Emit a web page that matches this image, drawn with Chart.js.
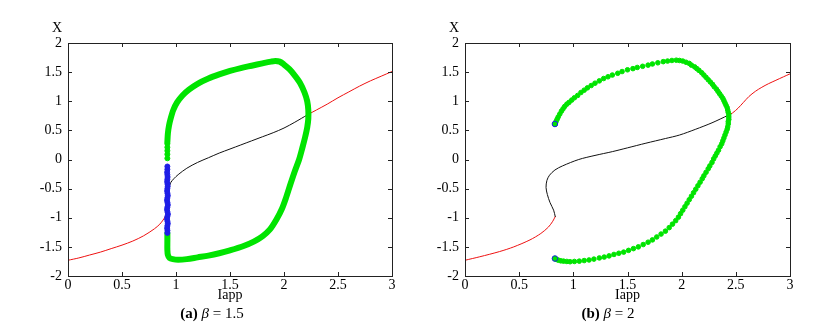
<!DOCTYPE html>
<html>
<head>
<meta charset="utf-8">
<script src="https://cdn.jsdelivr.net/npm/chart.js@4.4.1/dist/chart.umd.min.js"></script>
<style>
body{margin:0;background:#fff;}
.wrap{position:relative;width:824px;height:330px;}
canvas{position:absolute;top:0;}
.cap{position:absolute;top:305px;font:15px/17px 'Liberation Serif',serif;color:#000;white-space:nowrap;transform:translateX(-50%);}
</style>
</head>
<body>
<div class="wrap">
<canvas id="chartA" width="412" height="330" style="left:0"></canvas>
<canvas id="chartB" width="412" height="330" style="left:412px"></canvas>
<div class="cap" style="left:212px"><b>(a)</b> <i>β</i> = 1.5</div>
<div class="cap" style="left:608px"><b>(b)</b> <i>β</i> = 2</div>
</div>
<script>
// ---- (a) beta = 1.5 ----
const stableLowA = [[0,-1.73],[0.1,-1.69],[0.2,-1.64],[0.3,-1.59],[0.4,-1.53],[0.5,-1.47],[0.6,-1.40],[0.7,-1.31],[0.8,-1.19],[0.85,-1.11],[0.88,-1.04],[0.9,-0.98],[0.915,-0.92]];
const unstableA = [[0.915,-0.95],[0.925,-0.7],[0.935,-0.5],[0.95,-0.4],[0.98,-0.33],[1.02,-0.26],[1.1,-0.15],[1.2,-0.05],[1.3,0.03],[1.4,0.11],[1.5,0.18],[1.6,0.25],[1.7,0.32],[1.8,0.39],[1.9,0.46],[2.0,0.54],[2.1,0.64],[2.22,0.77]];
const stableHighA = [[2.22,0.77],[2.3,0.85],[2.4,0.95],[2.5,1.06],[2.6,1.16],[2.7,1.26],[2.8,1.35],[2.9,1.43],[3.0,1.51]];
const cycleA = [[0.92,0.3],[0.925,0.45],[0.935,0.58],[0.95,0.7],[0.975,0.85],[1.01,0.98],[1.06,1.1],[1.12,1.2],[1.2,1.3],[1.3,1.39],[1.4,1.46],[1.5,1.52],[1.6,1.57],[1.7,1.61],[1.8,1.65],[1.88,1.68],[1.92,1.69],[1.96,1.68],[2.0,1.63],[2.05,1.55],[2.1,1.44],[2.15,1.31],[2.19,1.15],[2.215,1.0],[2.225,0.85],[2.225,0.7],[2.215,0.55],[2.195,0.38],[2.17,0.2],[2.14,0.0],[2.1,-0.2],[2.06,-0.42],[2.02,-0.65],[1.98,-0.85],[1.93,-1.03],[1.87,-1.2],[1.8,-1.32],[1.72,-1.41],[1.62,-1.49],[1.5,-1.56],[1.4,-1.61],[1.3,-1.65],[1.2,-1.68],[1.1,-1.71],[1.02,-1.72],[0.97,-1.71],[0.94,-1.69],[0.925,-1.64],[0.92,-1.55],[0.92,-1.4],[0.92,-1.27]];
const cycleDotsA = [[0.92,0.02],[0.92,0.09],[0.92,0.15],[0.92,0.21],[0.92,0.27]];
const unstableCycleA = [[0.92,-0.12],[0.92,-0.17],[0.918,-0.22],[0.92,-0.26],[0.922,-0.3],[0.92,-0.34],[0.918,-0.38],[0.921,-0.42],[0.923,-0.46],[0.92,-0.5],[0.918,-0.54],[0.921,-0.58],[0.924,-0.62],[0.92,-0.66],[0.917,-0.7],[0.921,-0.74],[0.924,-0.78],[0.92,-0.82],[0.917,-0.86],[0.921,-0.9],[0.925,-0.94],[0.92,-0.98],[0.917,-1.02],[0.921,-1.06],[0.924,-1.1],[0.92,-1.14],[0.918,-1.18],[0.921,-1.22],[0.92,-1.26]];

// ---- (b) beta = 2 ----
const stableLowB = [[0,-1.73],[0.136,-1.67],[0.32,-1.58],[0.45,-1.50],[0.6,-1.38],[0.7,-1.27],[0.77,-1.16],[0.81,-1.06],[0.833,-0.98]];
const unstableB = [[0.833,-0.98],[0.818,-0.87],[0.785,-0.74],[0.76,-0.6],[0.748,-0.48],[0.756,-0.36],[0.78,-0.27],[0.83,-0.18],[0.9,-0.11],[1.05,0.0],[1.2,0.07],[1.36,0.135],[1.5,0.2],[1.67,0.28],[1.85,0.36],[1.98,0.42],[2.13,0.52],[2.28,0.63],[2.43,0.76]];
const stableHighB = [[2.43,0.76],[2.47,0.8],[2.52,0.88],[2.57,0.98],[2.62,1.08],[2.68,1.17],[2.74,1.24],[2.8,1.3],[2.87,1.36],[2.94,1.42],[3.0,1.47]];
const cycleB = [[0.83,0.61],[0.84,0.65],[0.85,0.69],[0.86,0.73],[0.875,0.78],[0.89,0.83],[0.905,0.87],[0.92,0.91],[0.94,0.95],[0.96,0.98],[0.985,1.02],[1.01,1.06],[1.04,1.10],[1.07,1.15],[1.10,1.19],[1.13,1.23],[1.165,1.27],[1.20,1.31],[1.24,1.35],[1.28,1.39],[1.32,1.42],[1.36,1.45],[1.41,1.48],[1.45,1.51],[1.50,1.54],[1.55,1.56],[1.59,1.58],[1.64,1.60],[1.69,1.62],[1.73,1.64],[1.78,1.66],[1.83,1.68],[1.87,1.69],[1.91,1.70],[1.95,1.705],[1.98,1.70],[2.01,1.69],[2.04,1.67],[2.07,1.65],[2.09,1.62],[2.12,1.59],[2.14,1.56],[2.16,1.53],[2.185,1.49],[2.205,1.45],[2.225,1.41],[2.245,1.37],[2.265,1.33],[2.285,1.29],[2.30,1.25],[2.32,1.21],[2.335,1.17],[2.35,1.13],[2.365,1.09],[2.38,1.05],[2.39,1.01],[2.40,0.97],[2.41,0.93],[2.42,0.89],[2.425,0.85],[2.43,0.81],[2.435,0.77],[2.435,0.73],[2.435,0.69],[2.43,0.65],[2.43,0.61],[2.425,0.56],[2.42,0.52],[2.41,0.47],[2.40,0.42],[2.39,0.37],[2.38,0.32],[2.37,0.27],[2.355,0.22],[2.34,0.16],[2.325,0.11],[2.31,0.06],[2.295,0.01],[2.28,-0.05],[2.26,-0.11],[2.245,-0.16],[2.225,-0.22],[2.205,-0.28],[2.19,-0.33],[2.17,-0.39],[2.15,-0.45],[2.13,-0.51],[2.11,-0.57],[2.09,-0.63],[2.07,-0.69],[2.05,-0.75],[2.03,-0.81],[2.01,-0.87],[1.99,-0.93],[1.97,-0.99],[1.945,-1.05],[1.915,-1.11],[1.885,-1.17],[1.85,-1.23],[1.81,-1.28],[1.77,-1.33],[1.73,-1.38],[1.69,-1.42],[1.645,-1.46],[1.60,-1.50],[1.555,-1.53],[1.51,-1.56],[1.465,-1.59],[1.42,-1.61],[1.375,-1.63],[1.33,-1.655],[1.285,-1.675],[1.24,-1.69],[1.19,-1.71],[1.145,-1.725],[1.10,-1.735],[1.055,-1.745],[1.01,-1.75],[0.97,-1.755],[0.94,-1.75],[0.91,-1.745],[0.885,-1.74],[0.865,-1.73],[0.85,-1.72],[0.84,-1.71],[0.83,-1.70]];
const cycleEndsB = [[0.83,0.61],[0.83,-1.70]];

const xTicks = { min: 0, max: 3, step: 0.5 };
const yTicks = { min: -2, max: 2, step: 0.5 };

const RED = '#ee1111', BLACK = '#111', GREEN = 'rgb(0,228,0)', BLUE = 'rgb(30,30,230)';

Chart.defaults.font.family = "'Liberation Serif', serif";
Chart.defaults.font.size = 14;
Chart.defaults.color = '#000';

const pts = arr => arr.map(p => ({ x: p[0], y: p[1] }));
const fmt = v => String(Math.round(v * 10) / 10);

function line(data, color, width, tension) {
  return { data: pts(data), showLine: true, borderColor: color, borderWidth: width,
    pointRadius: 0, tension: tension, borderCapStyle: 'round', borderJoinStyle: 'round' };
}
function dots(data, fill, border, r) {
  return { data: pts(data), showLine: false, backgroundColor: fill, borderColor: border,
    borderWidth: 1, pointRadius: r };
}

// frame with inward ticks on all four sides, plus axis labels
const framePlugin = {
  id: 'frame',
  afterDraw(chart, args, opts) {
    const { ctx, chartArea: a, scales } = chart;
    ctx.save();
    ctx.strokeStyle = '#222';
    ctx.lineWidth = 1;
    ctx.strokeRect(a.left + 0.5, a.top + 0.5, a.right - a.left, a.bottom - a.top);
    ctx.beginPath();
    scales.x.ticks.forEach(t => {
      const px = Math.round(scales.x.getPixelForValue(t.value)) + 0.5;
      ctx.moveTo(px, a.bottom); ctx.lineTo(px, a.bottom - 4);
      ctx.moveTo(px, a.top); ctx.lineTo(px, a.top + 4);
    });
    scales.y.ticks.forEach(t => {
      const py = Math.round(scales.y.getPixelForValue(t.value)) + 0.5;
      ctx.moveTo(a.left, py); ctx.lineTo(a.left + 4, py);
      ctx.moveTo(a.right, py); ctx.lineTo(a.right - 4, py);
    });
    ctx.stroke();
    ctx.fillStyle = '#000';
    ctx.font = "14px 'Liberation Serif', serif";
    ctx.textAlign = 'center';
    ctx.textBaseline = 'alphabetic';
    ctx.fillText(opts.yLabel, a.left - 11, a.top - 11);
    ctx.fillText(opts.xLabel, (a.left + a.right) / 2, a.bottom + 23);
    ctx.restore();
  }
};

function makeChart(id, datasets, pad) {
  const noPad = s => { s.paddingLeft = 0; s.paddingRight = 0; s.paddingTop = 0; s.paddingBottom = 0; };
  return new Chart(document.getElementById(id), {
    type: 'scatter',
    data: { datasets },
    plugins: [framePlugin],
    options: {
      responsive: false,
      animation: false,
      events: [],
      layout: { padding: pad },
      plugins: { legend: { display: false }, tooltip: { enabled: false },
        frame: { xLabel: 'Iapp', yLabel: 'X' } },
      scales: {
        x: { type: 'linear', min: xTicks.min, max: xTicks.max,
          ticks: { stepSize: xTicks.step, padding: 1, maxRotation: 0, callback: fmt },
          grid: { display: false, drawTicks: false }, border: { display: false },
          afterFit: s => { s.height = 20; noPad(s); } },
        y: { type: 'linear', min: yTicks.min, max: yTicks.max,
          ticks: { stepSize: yTicks.step, padding: 6, callback: fmt },
          grid: { display: false, drawTicks: false }, border: { display: false },
          afterFit: s => { s.width = 30; noPad(s); } }
      }
    }
  });
}

makeChart('chartA', [
  dots(unstableCycleA, BLUE, BLUE, 2.5),
  dots(cycleDotsA, GREEN, GREEN, 2.5),
  line(cycleA, GREEN, 6, 0.3),
  line(unstableA, BLACK, 1, 0.3),
  line(stableHighA, RED, 1, 0.3),
  line(stableLowA, RED, 1, 0.3)
], { left: 38, right: 20, top: 43, bottom: 34 });

makeChart('chartB', [
  dots(cycleEndsB, GREEN, BLUE, 2.8),
  dots(cycleB, GREEN, GREEN, 2.3),
  line(unstableB, BLACK, 1, 0.3),
  line(stableHighB, RED, 1, 0.3),
  line(stableLowB, RED, 1, 0.3)
], { left: 23, right: 34, top: 43, bottom: 34 });
</script>
</body>
</html>
